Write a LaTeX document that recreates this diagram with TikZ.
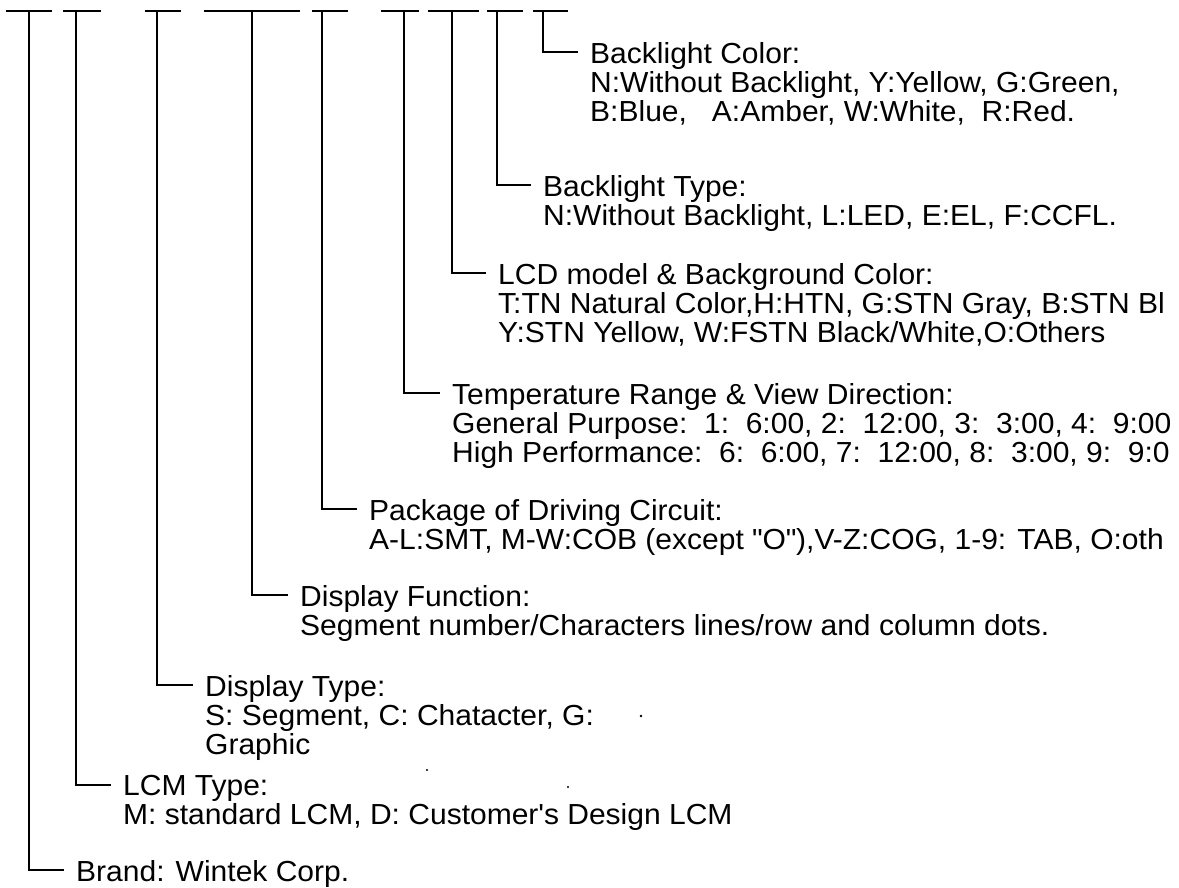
\documentclass[tikz,border=0pt]{standalone}
\usepackage{fontspec}
\setmainfont{Liberation Sans}[FakeStretch=1.035]
\tikzset{
  lbl/.style={anchor=north west,align=left,inner xsep=12pt,inner ysep=0pt,
    font=\fontsize{29}{29.3}\selectfont},
  lead/.style={line width=2pt},
}
\begin{document}
\begin{tikzpicture}[x=1pt,y=-1pt]
\useasboundingbox (0,0) rectangle (1179,888);
% code positions along the top
\foreach \n/\l/\r/\x in {brand/6/52/29,lcm/63/101/76,dtype/145/181/157,dfunc/204/300/252,
  pack/312/348/322,temp/381/419/404,lcd/428/479/452,bltype/487/523/497,blcol/533/568/543}{
  \draw[lead] (\l,11.5) -- (\r,11.5);
  \coordinate (t\n) at (\x,11.5);
}
% explanations
\node[lbl] (blcol) at (578,42) {Backlight Color:\\N:Without Backlight, Y:Yellow, G:Green,\\B:Blue,~~~A:Amber, W:White,~~R:Red.};
\node[lbl] (bltype) at (531,175) {Backlight Type:\\N:Without Backlight, L:LED, E:EL, F:CCFL.};
\node[lbl] (lcd) at (486,263) {LCD model \& Background Color:\\T:TN Natural Color,H:HTN, G:STN Gray, B:STN Bl\\Y:STN Yellow, W:FSTN Black/White,O:Others};
\node[lbl] (temp) at (440,383) {Temperature Range \& View Direction:\\General Purpose:~~1:~~6:00, 2:~~12:00, 3:~~3:00, 4:~~9:00\\High Performance:~~6:~~6:00, 7:~~12:00, 8:~~3:00, 9:~~9:0};
\node[lbl] (pack) at (357,499) {Package of Driving Circuit:\\A-L:SMT, M-W:COB (except \textquotedbl O\textquotedbl),V-Z:COG, 1-9: TAB, O:oth};
\node[lbl] (dfunc) at (288,585) {Display Function:\\Segment number/Characters lines/row and column dots.};
\node[lbl] (dtype) at (193,675) {Display Type:\\S: Segment, C: Chatacter, G:\\Graphic};
\node[lbl] (lcm) at (111,775) {LCM Type:\\M: standard LCM, D: Customer\textquotesingle s Design LCM};
\node[lbl] (brand) at (64,860) {Brand: Wintek Corp.};
% leaders
\foreach \n in {brand,lcm,dtype,dfunc,pack,temp,lcd,bltype,blcol}
  \draw[lead] (t\n) |- ([yshift=-10pt]\n.north west);
% specks of the scan
\fill (641,716) circle (1.3);
\fill (427,770) circle (1.1);
\fill (568,787) circle (1.1);
\end{tikzpicture}
\end{document}
